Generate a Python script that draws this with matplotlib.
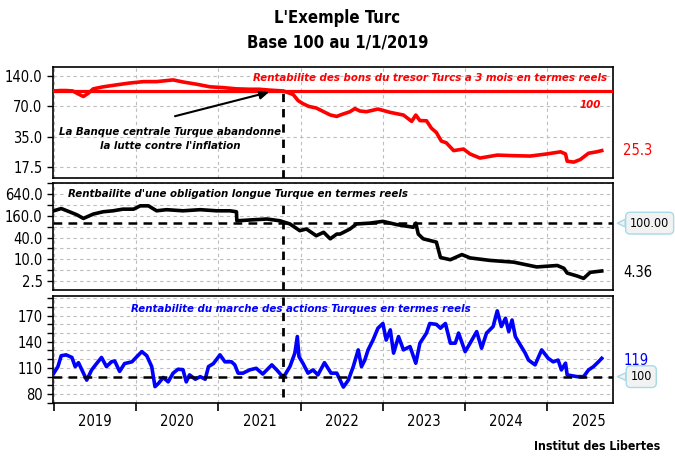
import matplotlib.pyplot as plt
from matplotlib.ticker import FixedLocator, NullFormatter

plt.rcParams['font.family'] = ['DejaVu Sans']
plt.rcParams['font.stretch'] = 'condensed'

# ---- data (decimal years) ----
years = [2019, 2020, 2021, 2022, 2023, 2024, 2025]
cut_date = 2021.79   # central bank drops the fight against inflation

red_x = [2019.0, 2019.08, 2019.15, 2019.23, 2019.3, 2019.36, 2019.42, 2019.48, 2019.6, 2019.76,
         2019.92, 2020.09, 2020.25, 2020.45, 2020.57, 2020.73, 2020.9, 2021.06, 2021.22, 2021.38,
         2021.5, 2021.62, 2021.79, 2021.85, 2021.91, 2021.97, 2022.03, 2022.1, 2022.19, 2022.28,
         2022.36, 2022.44, 2022.48, 2022.6, 2022.66, 2022.72, 2022.8, 2022.94, 2023.09, 2023.25,
         2023.35, 2023.4, 2023.45, 2023.53, 2023.59, 2023.65, 2023.71, 2023.77, 2023.86, 2023.98,
         2024.06, 2024.18, 2024.39, 2024.59, 2024.79, 2024.99, 2025.16, 2025.22, 2025.24, 2025.32,
         2025.4, 2025.5, 2025.6, 2025.66]
red_y = [100, 101, 101, 100, 93, 88, 95, 105, 110, 115,
         120, 124, 124, 129, 123, 117, 110, 108, 105, 104,
         104, 102, 100, 96, 92, 80, 74.5, 70, 67.5, 62,
         57.5, 55.6, 57.4, 62, 66.6, 63, 62, 65.9, 61, 57.4,
         49.6, 57.4, 50.5, 50.3, 42.4, 38.4, 31.5, 30.3, 25.3, 26.2,
         23.4, 21.3, 22.8, 22.5, 22.3, 23.4, 24.6, 23.4, 19.8, 19.4,
         20.6, 23.8, 24.6, 25.3]

blk_x = [2019.0, 2019.09, 2019.19, 2019.28, 2019.36, 2019.48, 2019.6, 2019.72, 2019.84, 2019.97,
         2020.05, 2020.15, 2020.25, 2020.37, 2020.57, 2020.78, 2020.98, 2021.14, 2021.22, 2021.225,
         2021.38, 2021.59, 2021.75, 2021.87, 2021.99, 2022.07, 2022.19, 2022.28, 2022.36, 2022.44,
         2022.48, 2022.6, 2022.68, 2022.84, 2023.0, 2023.17, 2023.37, 2023.4, 2023.43, 2023.49,
         2023.65, 2023.7, 2023.82, 2023.96, 2024.06, 2024.3, 2024.59, 2024.87, 2025.12, 2025.2,
         2025.24, 2025.36, 2025.44, 2025.52, 2025.66]
blk_y = [219, 253, 206, 170, 135, 178, 206, 219, 243, 243,
         300, 300, 219, 235, 219, 235, 219, 219, 206, 116,
         122, 130, 116, 95, 62, 69, 45, 56, 37, 50,
         50, 69, 95, 100, 112, 91, 77, 100, 50, 37,
         30, 11.3, 9.8, 13.6, 11.0, 9.4, 8.4, 6.2, 6.8, 5.7,
         4.2, 3.5, 3.0, 4.4, 4.8]

blue_x = [2019.0, 2019.05, 2019.09, 2019.15, 2019.22, 2019.26, 2019.3, 2019.36, 2019.4, 2019.46,
          2019.52, 2019.58, 2019.64, 2019.7, 2019.74, 2019.8, 2019.86, 2019.95, 2020.01, 2020.07,
          2020.13, 2020.19, 2020.23, 2020.27, 2020.33, 2020.39, 2020.45, 2020.51, 2020.57, 2020.61,
          2020.65, 2020.72, 2020.78, 2020.84, 2020.88, 2020.94, 2021.02, 2021.08, 2021.16, 2021.2,
          2021.24, 2021.3, 2021.38, 2021.46, 2021.54, 2021.65, 2021.71, 2021.79, 2021.87, 2021.93,
          2021.96, 2021.98, 2022.03, 2022.09, 2022.15, 2022.21, 2022.29, 2022.37, 2022.44, 2022.52,
          2022.58, 2022.64, 2022.7, 2022.74, 2022.78, 2022.82, 2022.88, 2022.94, 2023.0, 2023.04,
          2023.09, 2023.13, 2023.19, 2023.25, 2023.33, 2023.4, 2023.45, 2023.53, 2023.57, 2023.65,
          2023.7, 2023.76, 2023.82, 2023.88, 2023.92, 2024.0, 2024.06, 2024.14, 2024.2, 2024.26,
          2024.34, 2024.39, 2024.44, 2024.49, 2024.53, 2024.57, 2024.61, 2024.67, 2024.73, 2024.77,
          2024.85, 2024.93, 2025.01, 2025.07, 2025.13, 2025.17, 2025.22, 2025.24, 2025.36, 2025.44,
          2025.5, 2025.56, 2025.62, 2025.66]
blue_y = [104, 111.5, 124, 125, 122, 111.5, 116, 104, 96, 107.7,
          115, 122, 111.5, 117, 118, 106, 115, 117, 123, 128.7,
          124, 111.5, 88.5, 92, 99, 94, 104, 108.5, 108, 94,
          102, 97, 100, 97, 111.5, 115, 125, 117, 117, 113.5,
          104, 104, 107.7, 109.6, 103, 113.5, 107.7, 99, 111.5, 127,
          146, 123, 115, 104, 107.7, 102, 116, 104, 104, 88,
          96, 111.5, 130.7, 111.5, 119, 130.7, 142, 155.6, 161, 142,
          153.7, 127, 146, 130.7, 134.5, 115.4, 138.4, 150, 161, 160,
          155.6, 161, 138.4, 138.4, 150, 128.7, 138.4, 151.7, 132.6, 150,
          157.5, 175.5, 157.5, 167, 151.7, 165, 146, 136.4, 127, 119,
          113.5, 130.7, 121, 117, 119, 107.7, 115.4, 102, 100, 100,
          107.7, 111.5, 117, 121]

top_ticks = [17.5, 35, 70, 140]
mid_ticks = [2.5, 10, 40, 160, 640]
mid_minor = [5, 20, 80, 320, 1280]
bot_ticks = [80, 110, 140, 170]
bot_minor = list(range(70, 200, 10))

RED = '#ff0000'
BLUE = '#0000ff'
GRID = dict(color='#bdbdbd', linestyle=(0, (3, 3)), linewidth=0.8)
NOTE = 8.2   # size of the italic notes inside the panels

fig = plt.figure(figsize=(6.75, 4.68), dpi=100)
ax1 = fig.add_axes([0.0785, 0.620, 0.830, 0.237])
ax2 = fig.add_axes([0.0785, 0.380, 0.830, 0.229])
ax3 = fig.add_axes([0.0785, 0.139, 0.830, 0.229])

for ax in (ax1, ax2, ax3):
    ax.set_xlim(2018.99, 2025.8)
    ax.xaxis.set_major_locator(FixedLocator(years))
    ax.xaxis.set_minor_locator(FixedLocator([y + 0.5 for y in years]))
    ax.grid(True, axis='x', which='major', **GRID)
    ax.set_axisbelow(True)
    for s in ax.spines.values():
        s.set_linewidth(1.2)
    ax.tick_params(axis='y', which='both', labelsize=10.5, length=4, width=1)
    ax.tick_params(axis='x', which='major', length=0, labelbottom=False)
    ax.tick_params(axis='x', which='minor', length=0, labelbottom=False)

# ---- top panel: 3 month T-bills ----
ax1.set_yscale('log')
ax1.set_ylim(13.5, 174)
ax1.yaxis.set_major_locator(FixedLocator(top_ticks))
ax1.yaxis.set_minor_locator(FixedLocator([]))
ax1.set_yticklabels(['%.1f' % v for v in top_ticks])
ax1.grid(True, axis='y', which='major', **GRID)
ax1.axhline(100, color=RED, lw=2.3, zorder=3)
ax1.plot(red_x, red_y, color=RED, lw=2.6, zorder=4)
ax1.vlines(cut_date, 13.5, 100, colors='black', linestyles=(0, (3, 2.5)), lw=2, zorder=5)
ax1.text(2025.72, 135, 'Rentabilite des bons du tresor Turcs a 3 mois en termes reels',
         color=RED, fontsize=NOTE, fontweight='bold', style='italic', ha='right', va='center')
ax1.text(2025.52, 73, '100', color=RED, fontsize=NOTE, fontweight='bold', style='italic',
         ha='center', va='center')
ax1.annotate('', xy=(2021.65, 99), xytext=(2020.44, 55),
             arrowprops=dict(arrowstyle='-|>', color='black', lw=1.5, mutation_scale=14))
ax1.text(2020.41, 33, "La Banque centrale Turque abandonne\nla lutte contre l'inflation",
         fontsize=NOTE, fontweight='bold', style='italic', ha='center', va='center',
         linespacing=1.45)
ax1.text(1.018, 25.3, '25.3', transform=ax1.get_yaxis_transform(), color=RED,
         fontsize=10.5, va='center')

# ---- middle panel: long bond ----
ax2.set_yscale('log')
ax2.set_ylim(1.42, 1280)
ax2.yaxis.set_major_locator(FixedLocator(mid_ticks))
ax2.yaxis.set_minor_locator(FixedLocator(mid_minor))
ax2.yaxis.set_minor_formatter(NullFormatter())
ax2.set_yticklabels(['%.1f' % v for v in mid_ticks])
ax2.grid(True, axis='y', which='both', **GRID)
ax2.plot(blk_x, blk_y, color='black', lw=2.6, zorder=3)
ax2.axhline(100, color='black', lw=1.8, linestyle=(0, (3.5, 2.5)), zorder=4)
ax2.axvline(cut_date, color='black', lw=2, linestyle=(0, (3, 2.5)), zorder=5)
ax2.text(2019.17, 640, "Rentbailite d'une obligation longue Turque en termes reels",
         fontsize=NOTE, fontweight='bold', style='italic', ha='left', va='center', zorder=6,
         bbox=dict(facecolor='white', edgecolor='none', pad=1.5))
ax2.annotate('100.00', xy=(1.0, 100), xycoords=ax2.get_yaxis_transform(),
             xytext=(1.065, 100), textcoords=ax2.get_yaxis_transform(),
             fontsize=9, ha='center', va='center', annotation_clip=False,
             bbox=dict(boxstyle='round,pad=0.35', fc='#f2f2f2', ec='#a6dbe8', lw=1),
             arrowprops=dict(arrowstyle='wedge,tail_width=0.6', fc='#f2f2f2', ec='#a6dbe8',
                             lw=1, shrinkA=0, shrinkB=3))
ax2.text(1.018, 4.36, '4.36', transform=ax2.get_yaxis_transform(), color='black',
         fontsize=10.5, va='center')

# ---- bottom panel: equities ----
ax3.set_ylim(69.8, 192.8)
ax3.yaxis.set_major_locator(FixedLocator(bot_ticks))
ax3.yaxis.set_minor_locator(FixedLocator(bot_minor))
ax3.yaxis.set_minor_formatter(NullFormatter())
ax3.set_yticklabels([str(v) for v in bot_ticks])
ax3.grid(True, axis='y', which='both', **GRID)
ax3.plot(blue_x, blue_y, color=BLUE, lw=2.6, zorder=3)
ax3.axhline(100, color='black', lw=1.8, linestyle=(0, (3.5, 2.5)), zorder=4)
ax3.vlines(cut_date, 77, 192.8, colors='black', linestyles=(0, (3, 2.5)), lw=2, zorder=5)
ax3.text(2022.0, 178, 'Rentabilite du marche des actions Turques en termes reels',
         color=BLUE, fontsize=NOTE, fontweight='bold', style='italic', ha='center', va='center')
ax3.annotate('100', xy=(1.0, 100), xycoords=ax3.get_yaxis_transform(),
             xytext=(1.05, 100), textcoords=ax3.get_yaxis_transform(),
             fontsize=9, ha='center', va='center', annotation_clip=False,
             bbox=dict(boxstyle='round,pad=0.35', fc='#f2f2f2', ec='#a6dbe8', lw=1),
             arrowprops=dict(arrowstyle='wedge,tail_width=0.6', fc='#f2f2f2', ec='#a6dbe8',
                             lw=1, shrinkA=0, shrinkB=3))
ax3.text(1.018, 119, '119', transform=ax3.get_yaxis_transform(), color=BLUE,
         fontsize=10.5, va='center')

ax3.tick_params(axis='x', which='major', length=6, width=1.2, direction='out')
ax3.tick_params(axis='x', which='minor', labelbottom=True, labelsize=10.5, pad=8)
ax3.set_xticklabels([str(y) for y in years], minor=True)

fig.text(0.5, 0.962, "L'Exemple Turc", ha='center', va='center', fontsize=12,
         fontweight='bold')
fig.text(0.5, 0.910, 'Base 100 au 1/1/2019', ha='center', va='center', fontsize=12,
         fontweight='bold')
fig.text(0.978, 0.045, 'Institut des Libertes', ha='right', va='center', fontsize=8.8,
         fontweight='bold')

fig.savefig('out.png', dpi=100)
